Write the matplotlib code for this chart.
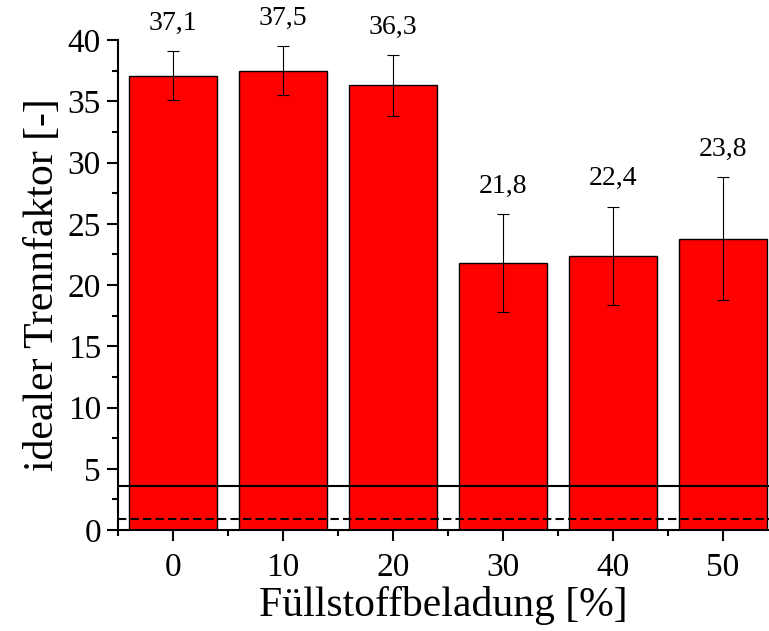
import matplotlib.pyplot as plt
from matplotlib.ticker import MultipleLocator

plt.rcParams['font.family'] = ['Liberation Serif', 'DejaVu Serif']

loading = [0, 10, 20, 30, 40, 50]
factor = [37.1, 37.5, 36.3, 21.8, 22.4, 23.8]
factor_err = [2.0, 2.0, 2.5, 4.0, 4.0, 5.0]
labels = ['37,1', '37,5', '36,3', '21,8', '22,4', '23,8']
ref_solid = 3.6
ref_dashed = 0.9

fig = plt.figure(figsize=(7.69, 6.31), dpi=100)
ax = fig.add_axes([0.153, 0.160, 0.847, 0.7765])

ax.bar(loading, factor, width=8, color='#ff0000', edgecolor='black',
       linewidth=1.0, zorder=2)
ax.errorbar(loading, factor, yerr=factor_err, fmt='none', ecolor='black',
            elinewidth=0.8, capsize=4, capthick=0.8, zorder=3)

for x, v, e, lab in zip(loading, factor, factor_err, labels):
    ax.annotate(lab, (x, v + e), xytext=(0, 20), textcoords='offset points',
                ha='center', va='center', fontsize=20)

ax.axhline(ref_solid, color='black', lw=1.5, zorder=4)
ax.axhline(ref_dashed, color='black', lw=1.5, ls=(0, (4, 2)), zorder=4)

ax.set_xlim(-5, 54.2)
ax.set_ylim(0, 40)
ax.xaxis.set_major_locator(MultipleLocator(10))
ax.xaxis.set_minor_locator(MultipleLocator(5))
ax.yaxis.set_major_locator(MultipleLocator(5))
ax.yaxis.set_minor_locator(MultipleLocator(2.5))

for s in ['top', 'right']:
    ax.spines[s].set_visible(False)
for s in ['left', 'bottom']:
    ax.spines[s].set_linewidth(1.5)

ax.tick_params(which='major', direction='out', length=8, width=1.5,
               labelsize=24)
ax.tick_params(which='minor', direction='out', length=4, width=1.5)
ax.tick_params(axis='x', which='major', pad=8)
ax.tick_params(axis='y', which='major', pad=4)

ax.set_xlabel('Füllstoffbeladung [%]', fontsize=30, labelpad=2)
ax.set_ylabel('idealer Trennfaktor [-]', fontsize=30, labelpad=4)

fig.savefig('out.png', dpi=100)
